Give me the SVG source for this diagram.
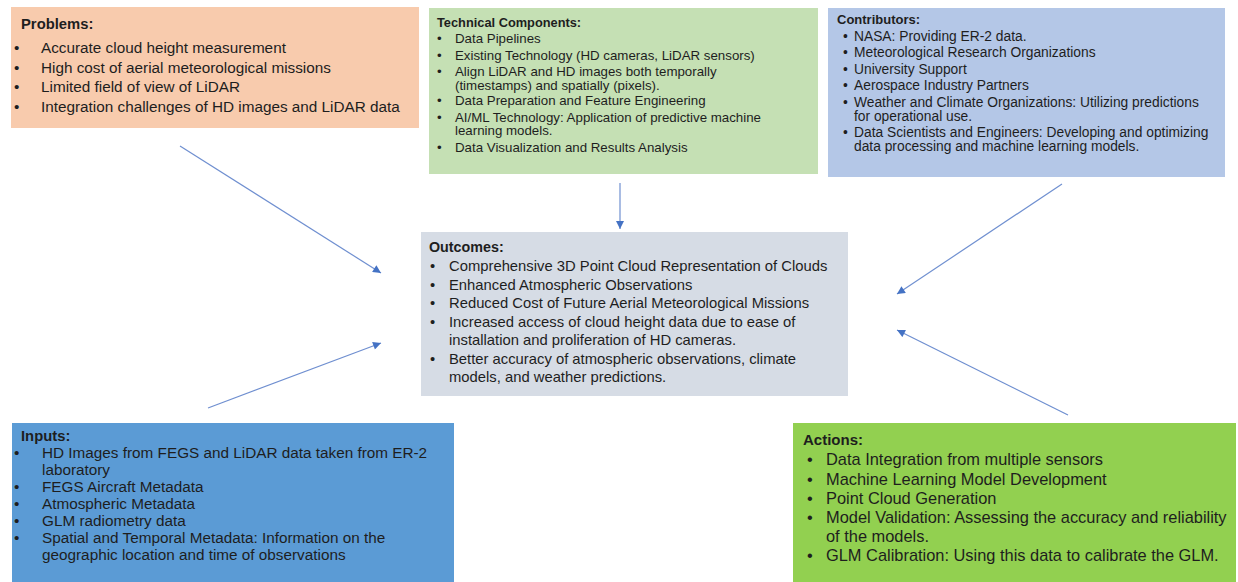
<svg xmlns="http://www.w3.org/2000/svg" width="1238" height="582" viewBox="0 0 1238 582">
<style>
text{font-family:"Liberation Sans",Arial,sans-serif;fill:#1e1e1e}
.h{font-weight:bold}
#problems text,#inputs text{font-size:15.3px}
#problems .h,#inputs .h{font-size:14.8px}
#tech text{font-size:13.3px}
#tech .h{font-size:12.8px}
#contributors text{font-size:13.8px}
#contributors .h{font-size:13px}
#outcomes text{font-size:14.8px}
#outcomes .h{font-size:14.3px}
#actions text{font-size:16.4px}
#actions .h{font-size:15px}
.conn line{stroke:#6f8fd0;stroke-width:1.2;fill:none}
</style>
<defs>
<marker id="ah" viewBox="0 0 10 10" refX="10" refY="5" markerWidth="9" markerHeight="8" markerUnits="userSpaceOnUse" orient="auto">
<path d="M0,0 L10,5 L0,10 z" fill="#4472c4"/>
</marker>
</defs>
<rect width="1238" height="582" fill="#ffffff"/>

<g id="problems">
<rect x="11" y="7" width="408" height="121" fill="#f8cbad"/>
<text class="h" x="21" y="29">Problems:</text>
<text x="14" y="53">•</text><text x="41" y="53">Accurate cloud height measurement</text>
<text x="14" y="72.5">•</text><text x="41" y="72.5">High cost of aerial meteorological missions</text>
<text x="14" y="92">•</text><text x="41" y="92">Limited field of view of LiDAR</text>
<text x="14" y="111.5">•</text><text x="41" y="111.5">Integration challenges of HD images and LiDAR data</text>
</g>

<g id="tech">
<rect x="429" y="8" width="389" height="166" fill="#c5e0b4"/>
<text class="h" x="437" y="27">Technical Components:</text>
<text x="437" y="43">•</text><text x="455" y="43">Data Pipelines</text>
<text x="437" y="59.5">•</text><text x="455" y="59.5">Existing Technology (HD cameras, LiDAR sensors)</text>
<text x="437" y="76">•</text><text x="455" y="76">Align LiDAR and HD images both temporally</text>
<text x="455" y="89.5">(timestamps) and spatially (pixels).</text>
<text x="437" y="105">•</text><text x="455" y="105">Data Preparation and Feature Engineering</text>
<text x="437" y="121.5">•</text><text x="455" y="121.5">AI/ML Technology: Application of predictive machine</text>
<text x="455" y="135">learning models.</text>
<text x="437" y="151.5">•</text><text x="455" y="151.5">Data Visualization and Results Analysis</text>
</g>

<g id="contributors">
<rect x="828" y="8" width="397" height="169" fill="#b4c7e7"/>
<text class="h" x="837" y="24">Contributors:</text>
<text x="843" y="40.5">•</text><text x="854" y="40.5">NASA: Providing ER-2 data.</text>
<text x="843" y="57">•</text><text x="854" y="57">Meteorological Research Organizations</text>
<text x="843" y="73.5">•</text><text x="854" y="73.5">University Support</text>
<text x="843" y="90">•</text><text x="854" y="90">Aerospace Industry Partners</text>
<text x="843" y="106.5">•</text><text x="854" y="106.5">Weather and Climate Organizations: Utilizing predictions</text>
<text x="854" y="120.5">for operational use.</text>
<text x="843" y="137">•</text><text x="854" y="137">Data Scientists and Engineers: Developing and optimizing</text>
<text x="854" y="151">data processing and machine learning models.</text>
</g>

<g id="outcomes">
<rect x="421" y="232" width="427" height="164" fill="#d6dce5"/>
<text class="h" x="429" y="252">Outcomes:</text>
<text x="430" y="270.5">•</text><text x="449" y="270.5">Comprehensive 3D Point Cloud Representation of Clouds</text>
<text x="430" y="289.5">•</text><text x="449" y="289.5">Enhanced Atmospheric Observations</text>
<text x="430" y="308">•</text><text x="449" y="308">Reduced Cost of Future Aerial Meteorological Missions</text>
<text x="430" y="327">•</text><text x="449" y="327">Increased access of cloud height data due to ease of</text>
<text x="449" y="345">installation and proliferation of HD cameras.</text>
<text x="430" y="364">•</text><text x="449" y="364">Better accuracy of atmospheric observations, climate</text>
<text x="449" y="382">models, and weather predictions.</text>
</g>

<g id="inputs">
<rect x="12" y="423" width="442" height="159" fill="#5b9bd5"/>
<text class="h" x="21" y="441">Inputs:</text>
<text x="14" y="458">•</text><text x="42" y="458">HD Images from FEGS and LiDAR data taken from ER-2</text>
<text x="42" y="475">laboratory</text>
<text x="14" y="492">•</text><text x="42" y="492">FEGS Aircraft Metadata</text>
<text x="14" y="509">•</text><text x="42" y="509">Atmospheric Metadata</text>
<text x="14" y="526">•</text><text x="42" y="526">GLM radiometry data</text>
<text x="14" y="543">•</text><text x="42" y="543">Spatial and Temporal Metadata: Information on the</text>
<text x="42" y="560">geographic location and time of observations</text>
</g>

<g id="actions">
<rect x="793" y="423" width="443" height="159" fill="#92d050"/>
<text class="h" x="803" y="445">Actions:</text>
<text x="807" y="465">•</text><text x="826" y="465">Data Integration from multiple sensors</text>
<text x="807" y="484.5">•</text><text x="826" y="484.5">Machine Learning Model Development</text>
<text x="807" y="503.5">•</text><text x="826" y="503.5">Point Cloud Generation</text>
<text x="807" y="523">•</text><text x="826" y="523">Model Validation: Assessing the accuracy and reliability</text>
<text x="826" y="541.5">of the models.</text>
<text x="807" y="561">•</text><text x="826" y="561">GLM Calibration: Using this data to calibrate the GLM.</text>
</g>

<g id="connectors" class="conn">
<line x1="180" y1="146" x2="381" y2="273" marker-end="url(#ah)"/>
<line x1="208" y1="408" x2="381" y2="343" marker-end="url(#ah)"/>
<line x1="620" y1="183" x2="620" y2="229" marker-end="url(#ah)"/>
<line x1="1062" y1="184" x2="897" y2="294" marker-end="url(#ah)"/>
<line x1="1068" y1="415" x2="897" y2="330" marker-end="url(#ah)"/>
</g>
</svg>
